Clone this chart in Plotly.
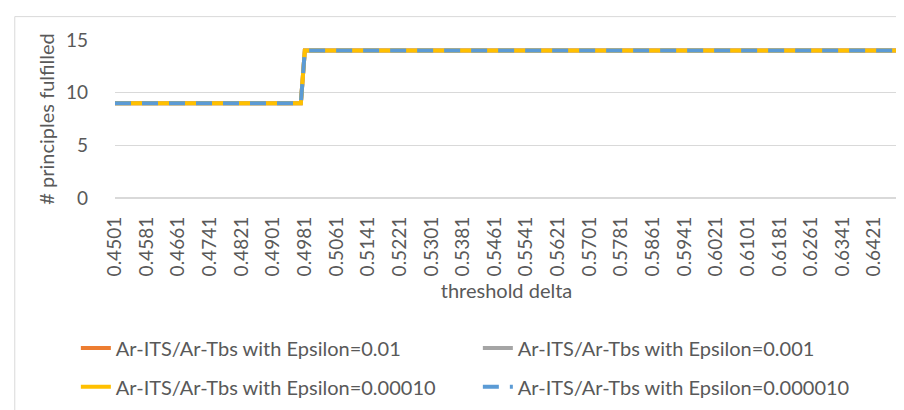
import plotly.graph_objects as go

# threshold delta categories (step 0.001)
deltas = [f"{0.4501 + i * 0.001:.4f}" for i in range(199)]
tick_labels = deltas[::8]

# principles fulfilled per threshold, identical for all four epsilons
eps_001 = [9] * 48 + [14] * 151
eps_0001 = [9] * 48 + [14] * 151
eps_00001 = [9] * 48 + [14] * 151
eps_000001 = [9] * 48 + [14] * 151

series = [
    ("Ar-ITS/Ar-Tbs with Epsilon=0.01", eps_001, "#ED7D31", "solid", "legend"),
    ("Ar-ITS/Ar-Tbs with Epsilon=0.001", eps_0001, "#A5A5A5", "solid", "legend"),
    ("Ar-ITS/Ar-Tbs with Epsilon=0.00010", eps_00001, "#FFC000", "solid", "legend2"),
    ("Ar-ITS/Ar-Tbs with Epsilon=0.000010", eps_000001, "#5B9BD5", "16px,11px", "legend2"),
]

font = "Lato, 'Open Sans', sans-serif"
grey = "#595959"
fs = 20

fig = go.Figure()
for name, vals, color, dash, leg in series:
    fig.add_trace(go.Scatter(
        x=deltas, y=vals, mode="lines", name=name, legend=leg,
        line=dict(color=color, width=4, dash=dash),
    ))

leg_common = dict(orientation="h", x=-0.05, xanchor="left", yanchor="middle",
                  entrywidth=357, entrywidthmode="pixels", font=dict(size=fs, color=grey),
                  bgcolor="rgba(0,0,0,0)")

fig.update_layout(
    width=904, height=410,
    margin=dict(l=107, r=14, t=32, b=216),
    plot_bgcolor="white", paper_bgcolor="white",
    font=dict(family=font, size=fs, color=grey),
    legend=dict(y=-0.95, **leg_common),
    legend2=dict(y=-1.195, **leg_common),
    shapes=[dict(type="line", xref="paper", yref="paper", x0=-0.128, x1=1.1, y0=1.148, y1=1.148,
                 line=dict(color="#D9D9D9", width=1)),
            dict(type="line", xref="paper", yref="paper", x0=-0.128, x1=-0.128, y0=1.148, y1=-1.5,
                 line=dict(color="#D9D9D9", width=1))],
)

fig.update_xaxes(
    type="category", range=[0, len(deltas) - 1], automargin=False,
    tickmode="array", tickvals=tick_labels, ticktext=tick_labels,
    tickangle=-90, tickfont=dict(size=19, color=grey), ticklabelstandoff=14,
    showgrid=False, showline=False, ticks="",
    title=dict(text="threshold delta", font=dict(size=fs, color=grey), standoff=8),
)
fig.update_yaxes(
    range=[0, 15], dtick=5, automargin=False,
    tickfont=dict(size=19, color=grey), ticklabelstandoff=26,
    showgrid=True, gridcolor="#D9D9D9", gridwidth=1, zeroline=True, zerolinecolor="#D9D9D9",
    showline=False, ticks="",
    title=dict(text="# principles fulfilled", font=dict(size=fs, color=grey), standoff=5),
)

fig.write_html("out.html")
